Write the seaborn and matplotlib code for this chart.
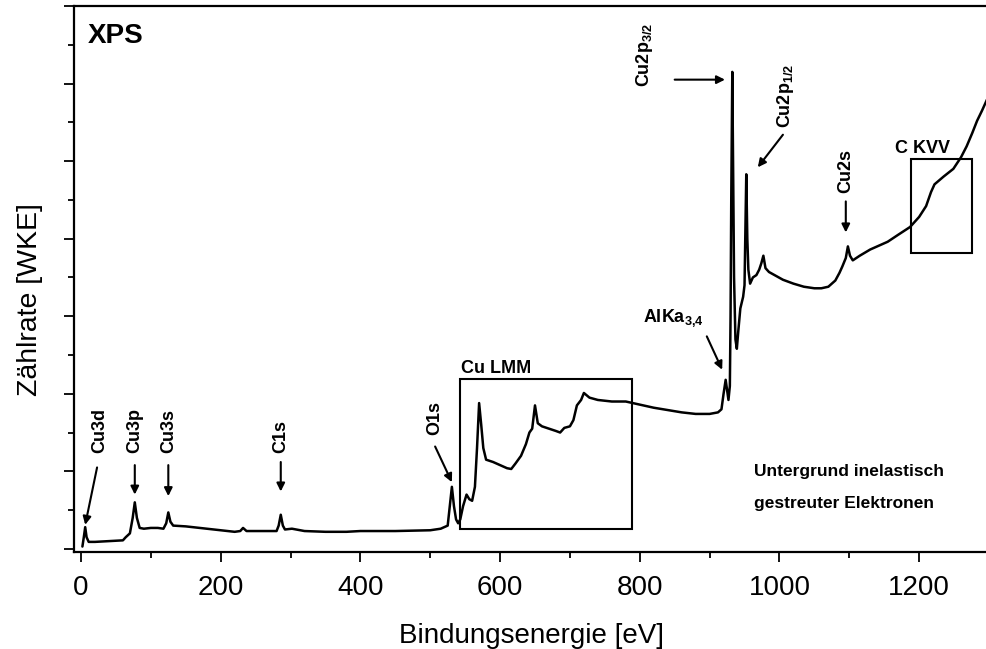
import numpy as np
import pandas as pd
import matplotlib
matplotlib.use("Agg")
import matplotlib.pyplot as plt
from matplotlib.patches import Rectangle
from matplotlib.ticker import MultipleLocator, NullFormatter
import seaborn as sns

#-----------------------------------------------------------------------
# Spectrum (binding energy in eV, counts in arb. units)
energy = [2, 4, 6, 8, 11, 20, 40, 60, 64, 70, 74, 77, 80, 84, 90, 100, 110, 118,
          122, 125, 128, 132, 150, 170, 200, 220, 228, 232, 237, 260, 280, 283,
          286, 289, 292, 302, 320, 350, 380, 400, 450, 500, 515, 520, 525, 528,
          531, 534, 537, 540, 543, 547, 552, 556, 560, 564, 567, 570, 573, 576,
          580, 590, 600, 610, 616, 622, 630, 637, 642, 646, 650, 654, 660, 670,
          680, 686, 692, 700, 705, 710, 716, 720, 728, 740, 760, 780, 800, 820,
          840, 860, 880, 900, 912, 917, 920, 923, 925, 927, 929, 930, 931, 932.5,
          934, 935, 937, 939, 941, 944, 948, 950, 951, 952.5, 954, 955.5, 958,
          962, 967, 971, 974, 977, 980, 985, 995, 1005, 1020, 1035, 1050, 1060,
          1070, 1080, 1086, 1090, 1095, 1098, 1101, 1105, 1115, 1130, 1145, 1155,
          1170, 1187, 1200, 1210, 1217, 1222, 1235, 1249, 1260, 1268, 1276, 1283,
          1290, 1300]
counts = [0.03, 0.15, 0.28, 0.15, 0.09, 0.09, 0.10, 0.11, 0.15, 0.20, 0.40, 0.60,
          0.40, 0.27, 0.26, 0.27, 0.27, 0.26, 0.33, 0.47, 0.35, 0.30, 0.29, 0.27,
          0.24, 0.22, 0.23, 0.27, 0.23, 0.23, 0.23, 0.30, 0.44, 0.30, 0.25, 0.26,
          0.23, 0.22, 0.22, 0.23, 0.23, 0.24, 0.26, 0.28, 0.30, 0.55, 0.80, 0.55,
          0.38, 0.33, 0.38, 0.55, 0.70, 0.64, 0.62, 0.80, 1.30, 1.88, 1.60, 1.30,
          1.15, 1.12, 1.08, 1.04, 1.03, 1.10, 1.20, 1.35, 1.50, 1.55, 1.85, 1.62,
          1.58, 1.55, 1.52, 1.50, 1.56, 1.58, 1.66, 1.85, 1.92, 2.01, 1.95, 1.92,
          1.90, 1.90, 1.86, 1.82, 1.79, 1.76, 1.74, 1.74, 1.76, 1.80, 2.00, 2.18,
          2.05, 1.92, 2.10, 3.00, 4.50, 6.15, 4.50, 3.50, 2.70, 2.58, 2.80, 3.10,
          3.25, 3.40, 4.00, 4.83, 4.00, 3.60, 3.42, 3.50, 3.53, 3.60, 3.68, 3.78,
          3.62, 3.57, 3.52, 3.47, 3.42, 3.38, 3.36, 3.36, 3.38, 3.46, 3.56, 3.64,
          3.75, 3.90, 3.78, 3.72, 3.78, 3.86, 3.92, 3.96, 4.05, 4.15, 4.28, 4.42,
          4.60, 4.70, 4.80, 4.90, 5.05, 5.19, 5.36, 5.52, 5.65, 5.85]

# Peak labels: text, text position, arrow tail, arrow head
peak_labels = ['Cu3d', 'Cu3p', 'Cu3s', 'C1s', 'O1s',
               r'Cu2p$_{\mathbf{3/2}}$', r'Cu2p$_{\mathbf{1/2}}$', 'Cu2s']
label_x = [27, 77, 125, 286, 507, 807, 1008, 1095]
label_y = [1.24, 1.24, 1.24, 1.24, 1.47, 5.95, 5.43, 4.59]
arrow_from = [(23, 1.05), (77, 1.08), (125, 1.08), (286, 1.12), (507, 1.32),
              (850, 6.05), (1005, 5.34), (1095, 4.48)]
arrow_to = [(6, 0.31), (77, 0.70), (125, 0.68), (286, 0.74), (531, 0.86),
            (922, 6.05), (969, 4.92), (1095, 4.08)]

# Auger regions (energy range, count range)
box_names = ['Cu LMM', 'C KVV']
box_x = [(543, 789), (1188, 1276)]
box_y = [(0.26, 2.19), (3.82, 5.03)]
box_label_pos = [(544, 2.27), (1165, 5.10)]

#-----------------------------------------------------------------------
sns.set_style('ticks')
plt.rcParams['font.family'] = ['Liberation Sans', 'DejaVu Sans']
plt.rcParams['mathtext.fontset'] = 'custom'
plt.rcParams['mathtext.rm'] = 'Liberation Sans'
plt.rcParams['mathtext.bf'] = 'Liberation Sans:bold'
for key in ['text.color', 'axes.labelcolor', 'xtick.color', 'ytick.color',
            'axes.edgecolor']:
    plt.rcParams[key] = 'black'

df = pd.DataFrame({'energy': energy, 'counts': counts})

fig = plt.figure(figsize=(9.87, 6.49), dpi=100)
ax = fig.add_axes([0.075, 0.1495, 0.927, 0.8413])

sns.lineplot(data=df, x='energy', y='counts', sort=False, estimator=None,
             color='black', linewidth=1.8, ax=ax)

# boxes around Auger lines
for name, bx, by, pos in zip(box_names, box_x, box_y, box_label_pos):
    ax.add_patch(Rectangle((bx[0], by[0]), bx[1] - bx[0], by[1] - by[0],
                           fill=False, edgecolor='black', linewidth=1.5))
    ax.text(pos[0], pos[1], name, fontsize=13, fontweight='bold',
            ha='left', va='baseline')

# peak labels and arrows
arrow_style = dict(arrowstyle='-|>', color='black', lw=1.5,
                   mutation_scale=12, shrinkA=0, shrinkB=0)
for txt, lx, ly, a0, a1 in zip(peak_labels, label_x, label_y, arrow_from, arrow_to):
    ax.text(lx, ly, txt, rotation=90, fontsize=13, fontweight='bold',
            ha='center', va='bottom')
    ax.annotate('', xy=a1, xytext=a0, arrowprops=arrow_style)

ax.text(805, 2.92, r'AlKa$_{\mathbf{3{,}4}}$', fontsize=13, fontweight='bold',
        ha='left', va='baseline')
ax.annotate('', xy=(918, 2.31), xytext=(896, 2.74), arrowprops=arrow_style)

ax.text(10, 6.61, 'XPS', fontsize=20, fontweight='bold', ha='left', va='center')
ax.text(963, 0.94, 'Untergrund inelastisch', fontsize=12.5, fontweight='bold',
        ha='left', va='baseline')
ax.text(963, 0.53, 'gestreuter Elektronen', fontsize=12.5, fontweight='bold',
        ha='left', va='baseline')

# axes
ax.set_xlim(-10, 1300)
ax.set_ylim(-0.04, 7.0)
ax.xaxis.set_major_locator(MultipleLocator(200))
ax.xaxis.set_minor_locator(MultipleLocator(100))
ax.yaxis.set_major_locator(MultipleLocator(1))
ax.yaxis.set_minor_locator(MultipleLocator(0.5))
ax.yaxis.set_major_formatter(NullFormatter())
ax.tick_params(which='both', direction='out', width=1.3, top=False, right=False)
ax.tick_params(which='major', length=7.5, labelsize=20, pad=9)
ax.tick_params(which='minor', length=4.5)
for side in ['left', 'bottom', 'top']:
    ax.spines[side].set_linewidth(1.6)
ax.spines['right'].set_visible(False)

ax.set_xlabel('Bindungsenergie [eV]', fontsize=20, labelpad=16)
ax.set_ylabel('Zählrate [WKE]', fontsize=20.5)
ax.yaxis.set_label_coords(-0.034, 0.4615)

plt.savefig('out.png', dpi=100)
plt.close()
